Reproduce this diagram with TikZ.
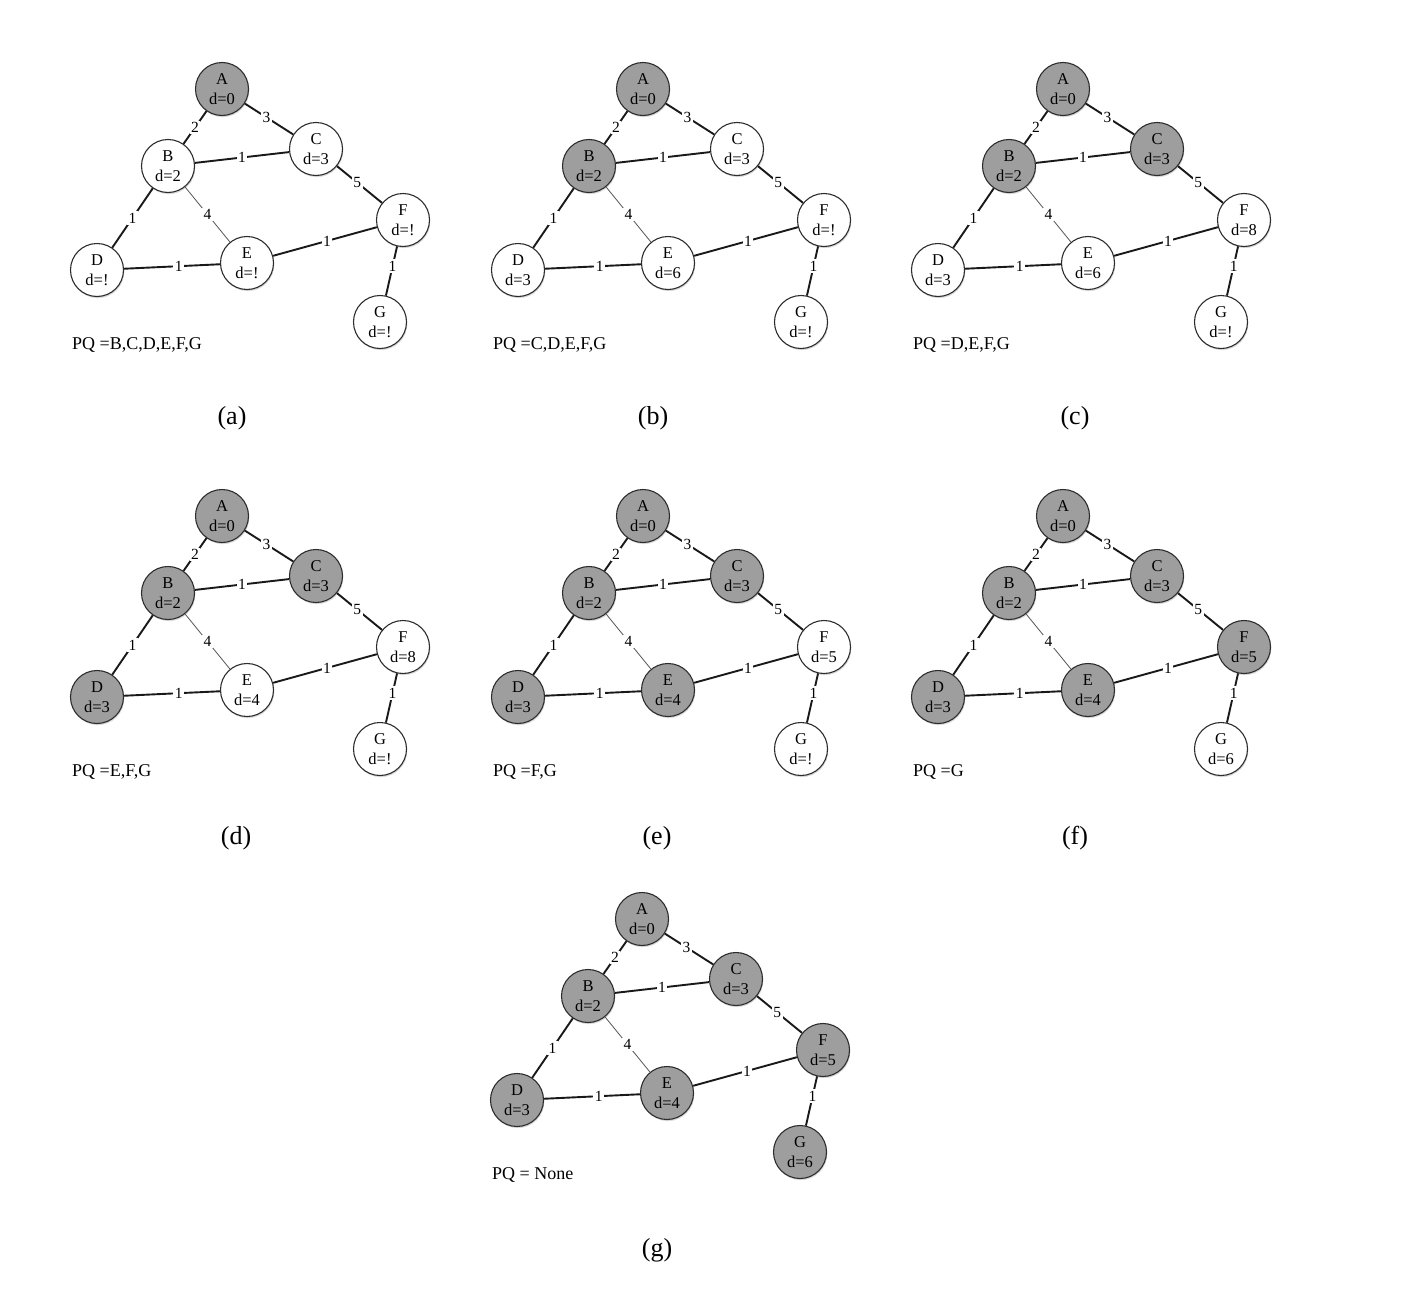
\documentclass[tikz,border=0pt]{standalone}
\usepackage{fontspec}
\setmainfont{Liberation Serif}
\usetikzlibrary{shadows}
\definecolor{vgray}{RGB}{158,158,158}
\definecolor{vline}{RGB}{45,45,45}
\definecolor{eline}{RGB}{25,25,25}
\definecolor{tline}{RGB}{85,85,85}
\tikzset{
  vtx/.style={circle, draw=vline, line width=1.1pt, minimum size=53pt, inner sep=0pt,
    align=center, font=\fontsize{16.5}{19.5}\selectfont,
    drop shadow={opacity=0.3, shadow xshift=0.8pt, shadow yshift=-1.6pt}},
  edge/.style={line width=1.9pt, draw=eline},
  thinedge/.style={line width=0.8pt, draw=tline},
  wl/.style={fill=white, inner sep=1.5pt, font=\fontsize{15.5}{15.5}\selectfont},
  pq/.style={anchor=west, inner sep=0pt, font=\fontsize{18}{18}\selectfont},
  plabel/.style={inner sep=0pt, font=\fontsize{26}{26}\selectfont}
}
\newcommand{\gnode}[5]{%
  \ifnum#3>\nvis\relax
    \node[vtx, fill=white] (#1) at #2 {#4\\d=#5};%
  \else
    \node[vtx, fill=vgray] (#1) at #2 {#4\\d=#5};%
  \fi}
\newcommand{\dpanel}[9]{%
  \def\nvis{#4}%
  \begin{scope}[shift={(#2,#3)}]
    \gnode{#1A}{(222,89)}{1}{A}{0}
    \gnode{#1B}{(168,166)}{2}{B}{2}
    \gnode{#1C}{(316,149)}{3}{C}{3}
    \gnode{#1D}{(97,270)}{4}{D}{#5}
    \gnode{#1E}{(247,263)}{5}{E}{#6}
    \gnode{#1F}{(403,220)}{6}{F}{#7}
    \gnode{#1G}{(380,322)}{7}{G}{#8}
    \draw[edge] (#1A) -- node[wl]{2} (#1B);
    \draw[edge] (#1A) -- node[wl, pos=0.45]{3} (#1C);
    \draw[edge] (#1B) -- node[wl]{1} (#1C);
    \draw[edge] (#1C) -- node[wl, pos=0.45]{5} (#1F);
    \draw[edge] (#1B) -- node[wl]{1} (#1D);
    \draw[thinedge] (#1B) -- node[wl]{4} (#1E);
    \draw[edge] (#1D) -- node[wl, pos=0.57]{1} (#1E);
    \draw[edge] (#1E) -- node[wl, pos=0.52]{1} (#1F);
    \draw[edge] (#1F) -- node[wl, pos=0.4]{1} (#1G);
    \node[pq] (#1pq) at (72,345) {#9};
  \end{scope}}
\begin{document}
\begin{tikzpicture}[x=1pt, y=-1pt]
  \useasboundingbox[fill=white] (0,0) rectangle (1420,1290);
  \dpanel{a}{0}{0}{1}{!}{!}{!}{!}{PQ =B,C,D,E,F,G}
  \dpanel{b}{421}{0}{2}{3}{6}{!}{!}{PQ =C,D,E,F,G}
  \dpanel{c}{841}{0}{3}{3}{6}{8}{!}{PQ =D,E,F,G}
  \dpanel{d}{0}{427}{4}{3}{4}{8}{!}{PQ =E,F,G}
  \dpanel{e}{421}{427}{5}{3}{4}{5}{!}{PQ =F,G}
  \dpanel{f}{841}{427}{6}{3}{4}{5}{6}{PQ =G}
  \dpanel{g}{420}{830}{7}{3}{4}{5}{6}{PQ = None}
  \node[plabel] (la) at (232,418) {(a)};
  \node[plabel] (lb) at (653,418) {(b)};
  \node[plabel] (lc) at (1075,418) {(c)};
  \node[plabel] (ld) at (236,838) {(d)};
  \node[plabel] (le) at (657,838) {(e)};
  \node[plabel] (lf) at (1075,838) {(f)};
  \node[plabel] (lg) at (657,1250) {(g)};
\end{tikzpicture}
\end{document}
